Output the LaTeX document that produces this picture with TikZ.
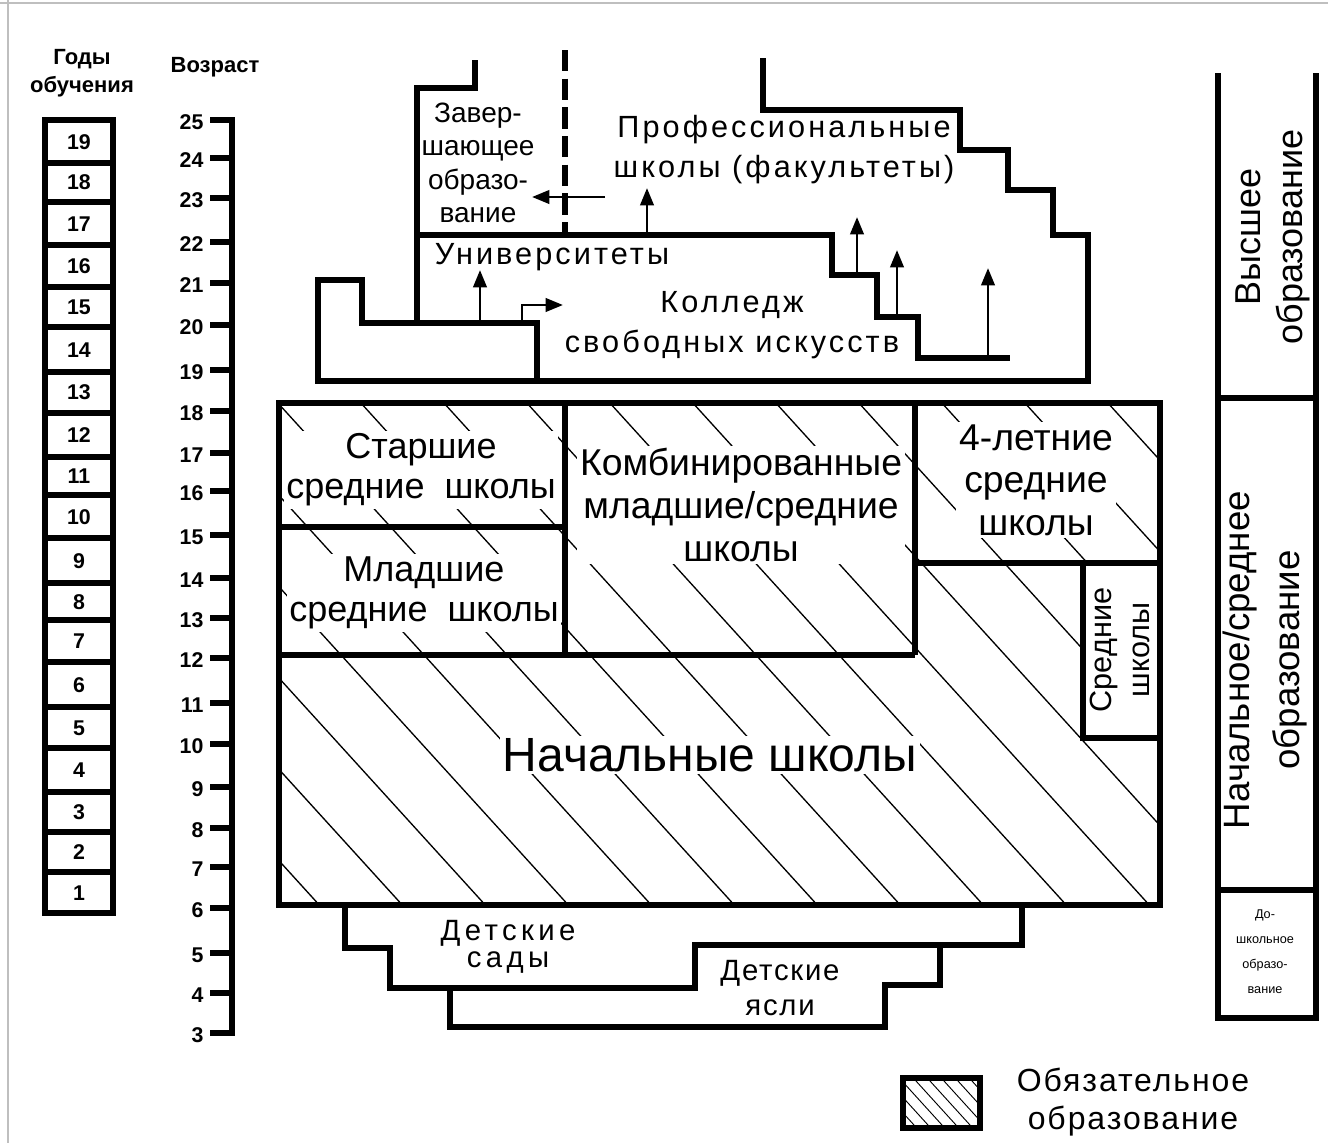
\documentclass[tikz,border=0pt]{standalone}
\usepackage{fontspec}
\setmainfont{Liberation Sans}
\newfontfamily\widefont[LetterSpace=10]{Liberation Sans}
\newfontfamily\sadyfont[LetterSpace=15]{Liberation Sans}
\newfontfamily\midfont[LetterSpace=6]{Liberation Sans}
\usetikzlibrary{arrows.meta}
\begin{document}
\begin{tikzpicture}[x=0.75pt,y=-0.75pt,
  wall/.style={line width=5pt,line join=miter},
  colwall/.style={line width=4.5pt,line join=miter},
  hatchln/.style={line width=1pt},
  arr/.style={line width=2.2pt,-{Triangle[length=13pt,width=10pt]}},
  lbl/.style={align=center,inner sep=1pt},
  wlbl/.style={align=center,inner sep=2pt,fill=white},
  numfont/.style={font=\fontsize{16}{18}\selectfont\bfseries},
]
\useasboundingbox (0,0) rectangle (1328,1143);
\draw[gray!50,line width=0.8pt] (8,0) -- (8,1143);
\draw[gray!50,line width=0.8pt] (0,3) -- (1328,3);

% ---------- years of study ----------
\node[lbl,font=\fontsize{16.5}{21}\selectfont\bfseries] (gody) at (82,73) {Годы\\обучения};
\draw[colwall] (45,120) rectangle (113,913);
\foreach \yy in {163,202,245,287,327,372,413,457,495,538,583,620,662,707,748,792,832,872}
  \draw[colwall] (45,\yy) -- (113,\yy);
\foreach \yn/\yy in {19/142,18/182,17/224,16/266,15/307,14/350,13/392,12/435,11/476,10/517,9/561,8/602,7/641,6/685,5/728,4/770,3/812,2/852,1/893}
  \node[lbl,numfont] (yr\yn) at (79,\yy) {\yn};

% ---------- age scale ----------
\node[lbl,font=\fontsize{16.5}{18}\selectfont\bfseries] (vozrast) at (215,67) {Возраст};
\draw[colwall] (210,120) -- (232,120) -- (232,1033) -- (210,1033);
\foreach \a/\yy in {24/158,23/198,22/242,21/283,20/325,19/370,18/411,17/453,16/491,15/535,14/578,13/618,12/658,11/703,10/744,9/787,8/828,7/867,6/908,5/953,4/993}
  \draw[colwall] (210,\yy) -- (232,\yy);
\foreach \a/\yy in {25/120,24/158,23/198,22/242,21/283,20/325,19/370,18/411,17/453,16/491,15/535,14/578,13/618,12/658,11/703,10/744,9/787,8/828,7/867,6/908,5/953,4/993,3/1033}
  \node[lbl,anchor=east,numfont] (age\a) at (205,\yy+2) {\a};

% ---------- higher education ----------
\draw[wall] (537,381) -- (537,323) -- (362,323) -- (362,280) -- (318,280) -- (318,381) -- (1088,381) -- (1088,235) -- (1053,235) -- (1053,190) -- (1008,190) -- (1008,150) -- (960,150) -- (960,110) -- (763,110) -- (763,58);
\draw[wall] (475,60) -- (475,88) -- (417,88) -- (417,323);
\draw[wall] (417,235) -- (832,235) -- (832,275) -- (877,275) -- (877,317) -- (918,317) -- (918,358) -- (1010,358);
\draw[line width=5pt,dash pattern=on 16pt off 5.5pt] (565,50) -- (565,235);

\node[lbl,font=\fontsize{21}{25}\selectfont] (zav) at (478,163) {Завер-\\шающее\\образо-\\вание};
\node[lbl,font=\widefont\fontsize{23}{30}\selectfont] (prof) at (784,150) {Профессиональные\\школы (факультеты)};
\node[lbl,font=\widefont\fontsize{23}{25}\selectfont] (univ) at (552,257) {Университеты};
\node[lbl,font=\widefont\fontsize{23}{30}\selectfont] (coll) at (732,325) {Колледж\\свободных искусств};

\coordinate (a1s) at (605,197); \coordinate (a1e) at (532,197);
\coordinate (a2s) at (647,235); \coordinate (a2e) at (647,188);
\coordinate (a3s) at (480,323); \coordinate (a3e) at (480,270);
\coordinate (a4s) at (522,323); \coordinate (a4m) at (522,305); \coordinate (a4e) at (563,305);
\coordinate (a5s) at (857,275); \coordinate (a5e) at (857,217);
\coordinate (a6s) at (897,317); \coordinate (a6e) at (897,250);
\coordinate (a7s) at (988,358); \coordinate (a7e) at (988,268);
\draw[arr] (a1s) -- (a1e);
\draw[arr] (a2s) -- (a2e);
\draw[arr] (a3s) -- (a3e);
\draw[arr] (a4s) -- (a4m) -- (a4e);
\draw[arr] (a5s) -- (a5e);
\draw[arr] (a6s) -- (a6e);
\draw[arr] (a7s) -- (a7e);

% ---------- compulsory education block ----------
\begin{scope}
\clip (279,403) rectangle (1160,905);
\foreach \k in {-12,...,4}
  \draw[hatchln] (838+83*\k,380) -- ++(500,550);
\end{scope}
\fill[white] (1083,563) rectangle (1160,738);

\node[wlbl,font=\fontsize{27}{30}\selectfont] (stars) at (421,470) {Старшие\\средние\ \ школы};
\node[wlbl,font=\fontsize{27}{30}\selectfont] (mlad) at (424,593) {Младшие\\средние\ \ школы};
\node[wlbl,font=\fontsize{28}{32}\selectfont] (komb) at (741,505) {Комбинированные\\младшие/средние\\школы};
\node[wlbl,font=\fontsize{28}{32}\selectfont] (four) at (1036,480) {4-летние\\средние\\школы};
\node[wlbl,rotate=90,font=\fontsize{23}{28}\selectfont] (sred) at (1120,650) {Средние\\школы};
\node[wlbl,font=\fontsize{36}{40}\selectfont] (nach) at (710,755) {Начальные школы};

\draw[wall] (279,403) rectangle (1160,905);
\draw[wall] (565,403) -- (565,655);
\draw[wall] (279,527) -- (565,527);
\draw[wall] (279,655) -- (915,655);
\draw[wall] (915,403) -- (915,655);
\draw[wall] (915,563) -- (1160,563);
\draw[wall] (1083,563) -- (1083,738) -- (1160,738);

% ---------- preschool ----------
\draw[wall] (345,905) -- (345,948) -- (390,948) -- (390,988) -- (695,988) -- (695,945) -- (1022,945) -- (1022,905);
\draw[wall] (450,988) -- (450,1027) -- (885,1027) -- (885,985) -- (940,985) -- (940,945);
\node[lbl,font=\sadyfont\fontsize{22}{20}\selectfont] (sady) at (508,947) {Детские\\сады};
\node[lbl,font=\midfont\fontsize{22}{26}\selectfont] (yasli) at (780,988) {Детские\\ясли};

% ---------- right column ----------
\draw[colwall] (1218,73) -- (1218,1018) -- (1316,1018) -- (1316,73);
\draw[colwall] (1218,398) -- (1316,398);
\draw[colwall] (1218,890) -- (1316,890);
\node[lbl,rotate=90,font=\fontsize{27}{32}\selectfont] (vyssh) at (1273,237) {Высшее\\образование};
\node[lbl,rotate=90,font=\fontsize{27.5}{37}\selectfont] (nachsr) at (1265,660) {Начальное/среднее\\образование};
\node[lbl,font=\fontsize{9.5}{18.75}\selectfont] (dosh) at (1265,952) {До-\\школьное\\образо-\\вание};

% ---------- legend ----------
\begin{scope}
\clip (903,1078) rectangle (980,1128);
\foreach \k in {0,...,10}
  \draw[hatchln,line width=0.7pt] (850+14*\k,1070) -- ++(60,66);
\end{scope}
\draw[wall] (903,1078) rectangle (980,1128);
\node[lbl,font=\midfont\fontsize{24}{28}\selectfont] (oblig) at (1133,1102) {Обязательное\\образование};
\end{tikzpicture}
\end{document}
